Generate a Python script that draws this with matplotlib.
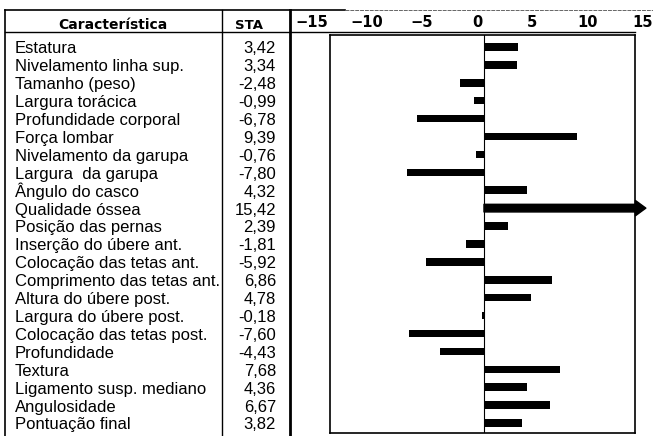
import matplotlib
matplotlib.use('Agg')
import matplotlib.pyplot as plt
from matplotlib.transforms import blended_transform_factory

# dados da tabela
caracteristicas = [
    'Estatura', 'Nivelamento linha sup.', 'Tamanho (peso)', 'Largura torácica',
    'Profundidade corporal', 'Força lombar', 'Nivelamento da garupa',
    'Largura  da garupa', 'Ângulo do casco', 'Qualidade óssea',
    'Posição das pernas', 'Inserção do úbere ant.', 'Colocação das tetas ant.',
    'Comprimento das tetas ant.', 'Altura do úbere post.', 'Largura do úbere post.',
    'Colocação das tetas post.', 'Profundidade', 'Textura',
    'Ligamento susp. mediano', 'Angulosidade', 'Pontuação final',
]
sta = [3.42, 3.34, -2.48, -0.99, -6.78, 9.39, -0.76, -7.80, 4.32, 15.42,
       2.39, -1.81, -5.92, 6.86, 4.78, -0.18, -7.60, -4.43, 7.68, 4.36,
       6.67, 3.82]
ticks = [-15, -10, -5, 0, 5, 10, 15]

W, H = 653, 436


def px_box(l, t, r, b):
    return [l / W, 1 - b / H, (r - l) / W, (b - t) / H]


fig = plt.figure(figsize=(W / 100, H / 100), dpi=100)

# moldura em coordenadas de pixel
ax_frame = fig.add_axes([0, 0, 1, 1])
ax_frame.set_xlim(0, W)
ax_frame.set_ylim(H, 0)
ax_frame.axis('off')

ax_frame.plot([5, 345], [10, 10], color='black', lw=1.2)
ax_frame.plot([345, 653], [10, 10], color='#666666', lw=0.7, ls=(0, (4, 1)))
ax_frame.plot([5, 635], [32, 32], color='black', lw=1.0)
ax_frame.plot([5, 5], [10, H], color='black', lw=1.2)
ax_frame.plot([222, 222], [10, H], color='black', lw=1.0)
ax_frame.plot([290, 290], [10, H], color='black', lw=2.0)

ax_frame.text(113, 29, 'Característica', ha='center', va='baseline',
              fontsize=10, fontweight='bold', family='DejaVu Sans')
ax_frame.text(249, 29, 'STA', ha='center', va='baseline',
              fontsize=9.5, fontweight='bold', family='DejaVu Sans')

# gráfico de barras
ax = fig.add_axes(px_box(330, 35, 635, 433))
y = list(range(len(sta)))
xmin, xmax = -15.6, 15.3
ax.set_xlim(xmin, xmax)
ax.set_ylim(21.56, -0.67)
ax.axvline(0, color='black', lw=0.8)

for yi, v in zip(y, sta):
    if v > xmax:
        ax.annotate('', xy=(16.4, yi), xytext=(0, yi), annotation_clip=False,
                    arrowprops=dict(arrowstyle='simple,head_length=0.75,head_width=1.1,tail_width=0.55',
                                    mutation_scale=10, color='black', shrinkA=0, shrinkB=0))
    else:
        ax.barh(yi, v, height=0.42, color='black')

ax.set_xticks([])
ax.set_yticks([])
for s in ax.spines.values():
    s.set_linewidth(1.2)

# escala no cabeçalho
ax_head = fig.add_axes(px_box(293, 30, 653, 31))
ax_head.set_xlim(-16.68, 15.96)
ax_head.xaxis.tick_top()
ax_head.set_xticks(ticks, [str(t).replace('-', '\u2212') for t in ticks])
ax_head.tick_params(axis='x', length=0, pad=0, labelsize=10.5)
for lab in ax_head.get_xticklabels():
    lab.set_fontweight('bold')
ax_head.set_yticks([])
for s in ax_head.spines.values():
    s.set_visible(False)
ax_head.patch.set_visible(False)

# linhas da tabela
trans = blended_transform_factory(ax_frame.transData, ax.transData)
for yi, nome, v in zip(y, caracteristicas, sta):
    ax_frame.text(15, yi + 0.36, nome, transform=trans, ha='left', va='baseline',
                  fontsize=12, family='Liberation Sans')
    ax_frame.text(276, yi + 0.36, f'{v:.2f}'.replace('.', ','), transform=trans,
                  ha='right', va='baseline', fontsize=12, family='Liberation Sans')

fig.savefig('out.png', dpi=100)
